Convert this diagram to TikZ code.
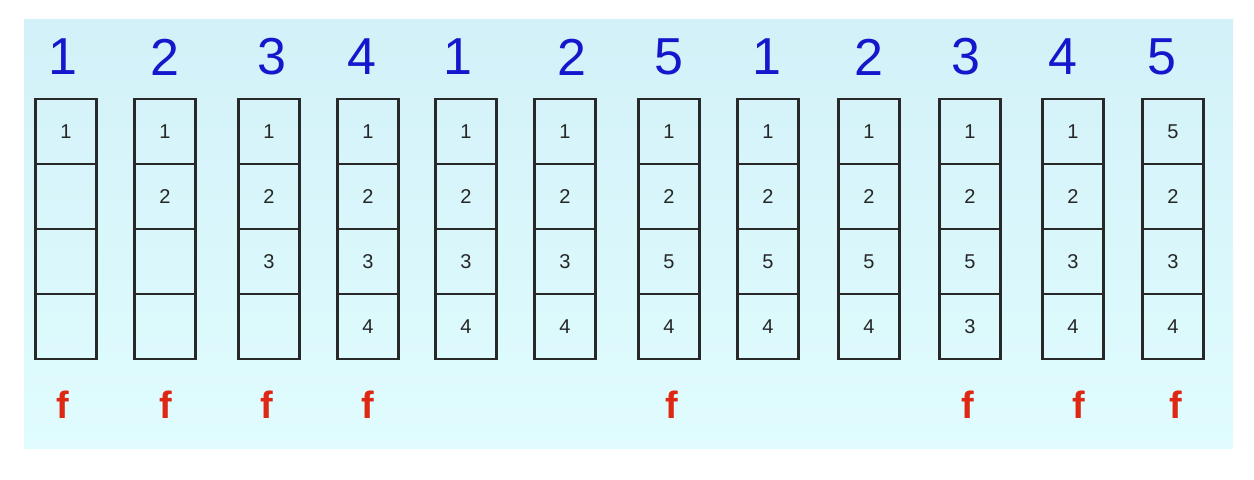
\documentclass[tikz,border=0pt]{standalone}
\usepackage{fontspec}
\setmainfont{Liberation Sans}

\definecolor{fondoarriba}{RGB}{210,241,248}
\definecolor{fondoabajo}{RGB}{224,252,254}
\definecolor{azulpag}{RGB}{22,22,205}
\definecolor{rojofallo}{RGB}{222,40,20}
\definecolor{borde}{RGB}{40,40,40}

\tikzset{
    celda/.style={draw=borde, line width=1.2pt, minimum width=30.5pt, minimum height=32.5pt,
        inner sep=0pt, font=\fontsize{10}{10}\selectfont, text=black!85},
    pagina/.style={text=azulpag, font=\fontsize{26}{26}\selectfont, inner sep=0pt},
    fallo/.style={text=rojofallo, font=\bfseries\fontsize{19}{19}\selectfont, inner sep=0pt}
}

\begin{document}
\begin{tikzpicture}[x=0.5pt, y=-0.5pt]
    % Marco de la imagen
    \useasboundingbox (0,0) rectangle (1254,480);

    % Fondo sombreado
    \fill[top color=fondoarriba, bottom color=fondoabajo] (24,20) rectangle (1233,449);

    % Columnas: numero / centro x / x de la referencia / referencia / marcos 1-4 / x del fallo / fallo
    \foreach \i/\x/\xr/\ref/\a/\b/\c/\d/\xf/\f in {
        1/66/63/1/1/{}/{}/{}/63/f,
        2/165/165/2/1/2/{}/{}/166/f,
        3/269/272/3/1/2/3/{}/267/f,
        4/368/362/4/1/2/3/4/368/f,
        5/466/458/1/1/2/3/4/466/{},
        6/565/572/2/1/2/3/4/565/{},
        7/669/669/5/1/2/5/4/672/f,
        8/768/767/1/1/2/5/4/768/{},
        9/869/869/2/1/2/5/4/869/{},
        10/970/966/3/1/2/5/3/968/f,
        11/1073/1063/4/1/2/3/4/1079/f,
        12/1173/1162/5/5/2/3/4/1176/f}
    {
        % Pagina referenciada
        \node[pagina] (ref\i) at (\xr,57) {\ref};

        % Marcos de la memoria
        \node[celda] (m\i-1) at (\x,131.5) {\a};
        \node[celda] (m\i-2) at (\x,196.5) {\b};
        \node[celda] (m\i-3) at (\x,261.5) {\c};
        \node[celda] (m\i-4) at (\x,326.5) {\d};

        % Fallo de pagina
        \node[fallo] (f\i) at (\xf,405) {\f};
    }
\end{tikzpicture}
\end{document}
